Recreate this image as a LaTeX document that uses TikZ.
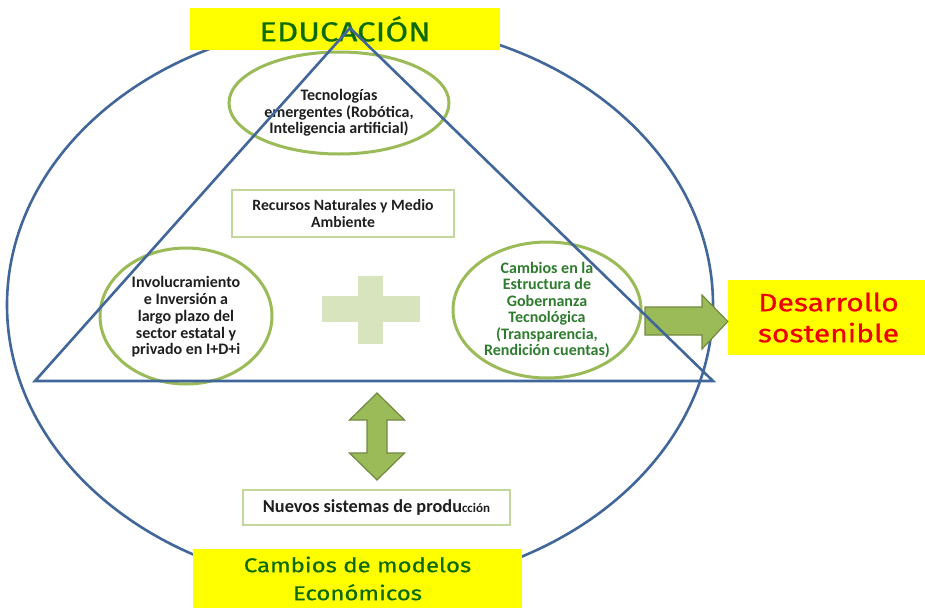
\documentclass[tikz,border=0pt]{standalone}
\usepackage{fontspec}
\setmainfont{Carlito}
\newfontfamily\comicfont[FakeStretch=1.2, FakeBold=0.6]{Fira Sans}
\usetikzlibrary{shapes.geometric}
\definecolor{bluel}{HTML}{41679A}
\definecolor{greenl}{HTML}{9BBB59}
\definecolor{greend}{HTML}{71893F}
\definecolor{lightg}{HTML}{C3D69B}
\definecolor{plusg}{HTML}{D7E4BD}
\definecolor{yel}{HTML}{FFFF00}
\definecolor{darkg}{HTML}{0B6B0B}
\definecolor{txtgreen}{HTML}{2E7D2E}
\definecolor{redt}{HTML}{EE0000}
\tikzset{
  blueline/.style={draw=bluel, line width=2.6pt},
  yellowbox/.style={fill=yel, draw=none, inner sep=0pt, align=center},
  gellipse/.style={ellipse, draw=greenl, line width=3pt, inner sep=0pt},
  lbox/.style={draw=lightg, line width=1.2pt, fill=white, inner sep=0pt, align=center},
  txt/.style={font=\bfseries\fontsize{16}{16.5}\selectfont, align=center, text=black!88},
  fatarrow/.style={fill=greenl, draw=greend, line width=1.2pt, line join=miter},
}
\begin{document}
\begin{tikzpicture}[x=1pt,y=-1pt]
\useasboundingbox (0,0) rectangle (925,608);
\fill[white] (0,0) rectangle (925,608);
% big ellipse
\draw[blueline] (360,305) ellipse [x radius=353, y radius=283];
% yellow boxes
\node[yellowbox, minimum width=310, minimum height=42, font=\comicfont\fontsize{27.5}{30}\selectfont, text=darkg] (edu) at (345,29) {EDUCACIÓN};
\node[yellowbox, minimum width=197, minimum height=75, font=\comicfont\fontsize{25}{31}\selectfont, text=redt] (des) at (826.5,317.5) {\hspace*{4pt}Desarrollo\\\hspace*{4pt}sostenible};
\node[yellowbox, minimum width=329, minimum height=59, font=\comicfont\fontsize{20}{28}\selectfont, text=darkg] (cam) at (357.5,578.5) {Cambios de modelos\\Económicos};
% green ellipses
\node[gellipse, minimum width=220, minimum height=102] (tec) at (339,103) {};
\node[txt] (tect) at (339,113) {Tecnologías\\emergentes (Robótica,\\Inteligencia artificial)};
\node[gellipse, minimum width=172, minimum height=136] (inv) at (186,316) {};
\node[txt, font=\bfseries\fontsize{16}{16.8}\selectfont] (invt) at (186,317) {Involucramiento\\e Inversión a\\largo plazo del\\sector estatal y\\privado en I+D+i};
\node[gellipse, minimum width=188, minimum height=136] (gob) at (547,310) {};
\node[txt, text=txtgreen] (gobt) at (547,310) {Cambios en la\\Estructura de\\Gobernanza\\Tecnológica\\(Transparencia,\\Rendición cuentas)};
% boxes
\node[lbox, minimum width=222, minimum height=47, txt, font=\bfseries\fontsize{15.7}{17}\selectfont] (rec) at (343,213.5) {Recursos Naturales y Medio\\Ambiente};
\node[lbox, minimum width=267, minimum height=35, txt, font=\bfseries\fontsize{18.3}{18}\selectfont] (nue) at (376.5,507.5) {Nuevos sistemas de produ{\fontsize{13}{14}\selectfont cción}};
% plus sign
\fill[plusg] (322,296) rectangle (420,322);
\fill[plusg] (358,276) rectangle (383,344);
% right arrow from gob to des
\coordinate (ra) at (645,321);
\coordinate (rb) at (des.west |- 0,321.5);
\draw[fatarrow] (645,307) -- (702,307) -- (702,295) -- (rb) -- (702,349) -- (702,335) -- (645,335) -- cycle;
% double arrow between triangle base and nue
\coordinate (da) at (377,393);
\coordinate (db) at (377,480);
\draw[fatarrow] (da) -- (404.5,420) -- (387,420) -- (387,453) -- (404.5,453) -- (db) -- (349.5,453) -- (367,453) -- (367,420) -- (349.5,420) -- cycle;
% triangle
\draw[blueline, line join=miter] (350,28) -- (713,381) -- (35,381) -- cycle;
\end{tikzpicture}
\end{document}
